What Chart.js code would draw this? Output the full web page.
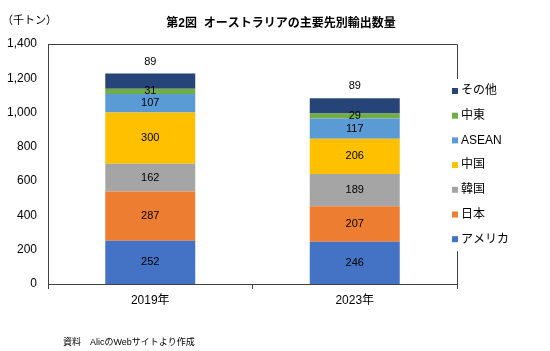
<!DOCTYPE html>
<html lang="ja">
<head>
<meta charset="utf-8">
<script src="https://cdn.jsdelivr.net/npm/chart.js@4/dist/chart.umd.min.js"></script>
<style>
  html, body { margin: 0; padding: 0; background: #fff; }
  #wrap { width: 550px; height: 351px; position: relative; }
</style>
</head>
<body>
<div id="wrap"><canvas id="exportChart" width="550" height="351"></canvas></div>
<script>
// --- Datos del gráfico ---
const years = ['2019年', '2023年'];
const seriesNames = ['アメリカ', '日本', '韓国', '中国', 'ASEAN', '中東', 'その他'];
const usa = [252, 246];
const japan = [287, 207];
const korea = [162, 189];
const china = [300, 206];
const asean = [107, 117];
const middleEast = [31, 29];
const others = [89, 89];
const yTicks = [0, 200, 400, 600, 800, 1000, 1200, 1400];

const colors = ['#4472C4', '#ED7D31', '#A5A5A5', '#FFC000', '#5B9BD5', '#70AD47', '#264478'];
const seriesValues = [usa, japan, korea, china, asean, middleEast, others];
const fontFamily = "'Liberation Sans', 'Noto Sans CJK JP', sans-serif";

Chart.defaults.font.family = fontFamily;
Chart.defaults.color = '#000';

// etiquetas de valores dentro de cada segmento
const valueLabels = {
    id: 'valueLabels',
    afterDatasetsDraw(chart) {
        const ctx = chart.ctx;
        ctx.save();
        ctx.font = '11px ' + fontFamily;
        ctx.fillStyle = '#000';
        ctx.textAlign = 'center';
        ctx.textBaseline = 'middle';
        chart.data.datasets.forEach((ds, i) => {
            const meta = chart.getDatasetMeta(i);
            meta.data.forEach((bar, j) => {
                let y = (bar.y + bar.base) / 2;
                if (i === chart.data.datasets.length - 1) y = bar.y - 12; // その他 va encima
                ctx.fillText(String(ds.data[j]), bar.x, y);
            });
        });
        ctx.restore();
    }
};

// marco, títulos, leyenda y nota
const decorations = {
    id: 'decorations',
    afterDraw(chart) {
        const ctx = chart.ctx;
        const area = chart.chartArea;
        ctx.save();
        // marco superior y derecho
        ctx.strokeStyle = '#404040';
        ctx.lineWidth = 1;
        ctx.beginPath();
        ctx.moveTo(area.left, area.top + 0.5);
        ctx.lineTo(area.right + 0.5, area.top + 0.5);
        ctx.lineTo(area.right + 0.5, area.bottom);
        ctx.stroke();

        ctx.fillStyle = '#000';
        ctx.textBaseline = 'middle';
        ctx.font = 'bold 12px ' + fontFamily;
        ctx.textAlign = 'center';
        ctx.fillText('第2図  オーストラリアの主要先別輸出数量', 281, 24);

        ctx.font = '11px ' + fontFamily;
        ctx.textAlign = 'left';
        ctx.fillText('（千トン）', 2, 21);

        // leyenda (orden inverso)
        const lx = 450, ly0 = 91, step = 24.7;
        ctx.fillStyle = '#fff';
        ctx.fillRect(lx - 2, ly0 - 12, 66, step * 6 + 24);
        ctx.font = '12px ' + fontFamily;
        for (let k = 0; k < seriesNames.length; k++) {
            const idx = seriesNames.length - 1 - k;
            const y = ly0 + k * step;
            ctx.fillStyle = colors[idx];
            ctx.fillRect(lx + 2, y - 3, 6, 6);
            ctx.fillStyle = '#000';
            ctx.fillText(seriesNames[idx], lx + 11, y);
        }

        ctx.font = '9px ' + fontFamily;
        ctx.fillText('資料　AlicのWebサイトより作成', 63, 343);
        ctx.restore();
    }
};

const ctx = document.getElementById('exportChart').getContext('2d');

new Chart(ctx, {
    type: 'bar',
    data: {
        labels: years,
        datasets: seriesNames.map((name, i) => ({
            label: name,
            data: seriesValues[i],
            backgroundColor: colors[i],
            borderWidth: 0,
            barPercentage: 0.88,
            categoryPercentage: 0.5
        }))
    },
    options: {
        responsive: false,
        animation: false,
        layout: { padding: { left: 0, top: 44, right: 93, bottom: 37 } },
        plugins: {
            legend: { display: false },
            tooltip: { enabled: false }
        },
        scales: {
            x: {
                stacked: true,
                grid: {
                    display: true,
                    drawOnChartArea: false,
                    drawTicks: true,
                    tickLength: 5,
                    color: '#404040'
                },
                border: { display: true, color: '#404040', width: 1 },
                ticks: { font: { size: 12 }, color: '#000', padding: 4 },
                afterFit(scale) { scale.height = 30; }
            },
            y: {
                stacked: true,
                min: 0,
                max: 1400,
                afterBuildTicks(scale) { scale.ticks = yTicks.map(v => ({ value: v })); },
                grid: { display: false, drawTicks: false },
                border: { display: true, color: '#404040', width: 1 },
                ticks: {
                    font: { size: 12 },
                    color: '#000',
                    padding: 11,
                    callback: v => v.toLocaleString('en-US')
                },
                afterFit(scale) { scale.width = 48; }
            }
        }
    },
    plugins: [valueLabels, decorations]
});
</script>
</body>
</html>
